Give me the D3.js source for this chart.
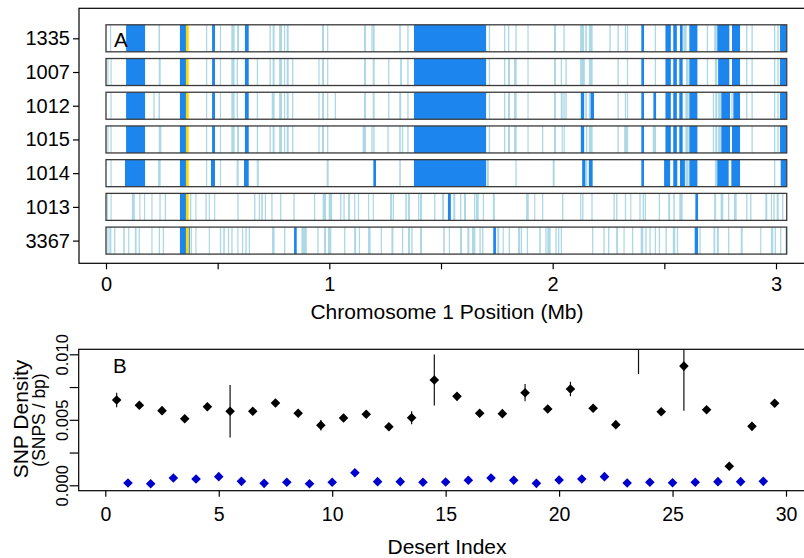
<!DOCTYPE html>
<html><head><meta charset="utf-8">
<script src="https://cdn.jsdelivr.net/npm/d3@7"></script>
<style>
html,body{margin:0;padding:0;background:#fff;}
svg{display:block;font-family:"Liberation Sans",Arial,Helvetica,sans-serif;}
</style></head>
<body>
<svg id="chart" width="804" height="558"></svg>
<script>
// ---------------- DATA ----------------
const trackNames = ["1335","1007","1012","1015","1014","1013","3367"];
const chromLengthMb = 3.048;
const topTicks = [0,0.5,1,1.5,2,2.5,3];

const light1335 = [[0.018,0.022],[0.235,0.242],[0.448,0.452],[0.510,0.515],[0.561,0.576],[0.587,0.596],[0.732,0.738],[0.746,0.755],[0.775,0.788],[0.797,0.802],[0.809,0.818],[0.967,0.976],[0.990,0.994],[1.155,1.164],[1.188,1.191],[1.194,1.203],[1.313,1.320],[1.349,1.355],[1.714,1.720],[1.782,1.788],[1.800,1.806],[1.833,1.839],[1.887,1.890],[2.006,2.015],[2.048,2.054],[2.123,2.141],[2.146,2.153],[2.162,2.179],[2.254,2.260],[2.290,2.296],[2.323,2.326],[2.332,2.338],[2.457,2.463],[2.585,2.600],[2.690,2.696],[2.723,2.735],[2.866,2.872],[2.890,2.896],[2.991,2.997],[3.006,3.012]];
const dark1335 = [[0.090,0.175],[0.331,0.358],[0.475,0.488],[0.622,0.639],[1.379,1.702],[2.397,2.409],[2.505,2.529],[2.540,2.556],[2.570,2.582],[2.612,2.648],[2.737,2.791],[2.803,2.839],[3.018,3.045]];

const light1007 = [[0.006,0.009],[0.020,0.023],[0.236,0.245],[0.448,0.452],[0.510,0.515],[0.561,0.576],[0.585,0.591],[0.675,0.681],[0.732,0.738],[0.746,0.755],[0.775,0.788],[0.797,0.802],[0.809,0.818],[0.833,0.839],[0.951,0.955],[0.967,0.976],[0.990,0.994],[1.155,1.164],[1.194,1.203],[1.263,1.269],[1.317,1.325],[1.349,1.355],[1.714,1.720],[1.782,1.788],[1.800,1.809],[1.827,1.839],[1.887,1.890],[2.006,2.015],[2.036,2.042],[2.057,2.063],[2.123,2.144],[2.162,2.179],[2.290,2.296],[2.332,2.338],[2.457,2.463],[2.597,2.609],[2.690,2.696],[2.726,2.737],[2.866,2.872],[2.890,2.896],[2.991,2.997],[3.006,3.012]];
const dark1007 = [[0.090,0.175],[0.331,0.358],[0.475,0.488],[0.622,0.639],[1.379,1.702],[2.397,2.409],[2.505,2.529],[2.540,2.556],[2.567,2.582],[2.612,2.648],[2.741,2.791],[2.803,2.839],[3.018,3.045]];

const light1012 = [[0.020,0.023],[0.212,0.218],[0.235,0.242],[0.448,0.452],[0.510,0.515],[0.561,0.576],[0.585,0.591],[0.675,0.681],[0.742,0.755],[0.775,0.788],[0.797,0.802],[0.809,0.818],[0.833,0.839],[0.951,0.955],[0.967,0.976],[0.990,0.994],[1.024,1.030],[1.155,1.164],[1.194,1.203],[1.263,1.269],[1.313,1.322],[1.349,1.355],[1.714,1.720],[1.782,1.788],[1.800,1.809],[1.827,1.839],[1.887,1.890],[2.006,2.015],[2.036,2.045],[2.048,2.054],[2.057,2.063],[2.146,2.153],[2.162,2.170],[2.290,2.296],[2.323,2.326],[2.332,2.338],[2.594,2.609],[2.717,2.723],[2.728,2.737],[2.741,2.753],[2.800,2.806],[2.866,2.872],[2.890,2.896],[2.991,2.997],[3.006,3.012]];
const dark1012 = [[0.090,0.175],[0.331,0.358],[0.475,0.488],[0.622,0.639],[1.379,1.702],[2.126,2.141],[2.170,2.185],[2.397,2.409],[2.451,2.463],[2.505,2.529],[2.540,2.556],[2.567,2.582],[2.612,2.648],[2.755,2.794],[2.809,2.839],[3.018,3.045]];

const light1015 = [[0.006,0.009],[0.020,0.023],[0.236,0.248],[0.448,0.452],[0.510,0.515],[0.561,0.576],[0.587,0.596],[0.675,0.681],[0.732,0.738],[0.746,0.755],[0.775,0.788],[0.797,0.802],[0.809,0.818],[0.833,0.839],[0.951,0.955],[0.967,0.976],[0.990,0.994],[1.149,1.164],[1.188,1.194],[1.197,1.203],[1.260,1.266],[1.313,1.320],[1.325,1.331],[1.349,1.355],[1.714,1.720],[1.782,1.788],[1.800,1.809],[1.827,1.839],[1.887,1.890],[1.952,1.958],[2.006,2.015],[2.040,2.045],[2.049,2.054],[2.149,2.155],[2.162,2.179],[2.290,2.296],[2.320,2.338],[2.448,2.463],[2.594,2.609],[2.717,2.723],[2.728,2.737],[2.741,2.753],[2.890,2.896],[2.991,2.997],[3.006,3.012]];
const dark1015 = [[0.090,0.175],[0.331,0.358],[0.475,0.488],[0.622,0.639],[1.379,1.702],[2.126,2.141],[2.397,2.409],[2.505,2.529],[2.540,2.556],[2.567,2.582],[2.612,2.648],[2.755,2.794],[2.803,2.839],[3.018,3.045]];

const light1014 = [[0.020,0.023],[0.233,0.245],[0.448,0.452],[0.510,0.515],[0.585,0.594],[0.675,0.684],[0.988,0.997],[1.313,1.320],[1.705,1.714],[1.833,1.839],[2.000,2.009],[2.146,2.155],[2.594,2.609],[2.726,2.737],[2.991,2.997]];
const dark1014 = [[0.085,0.175],[0.331,0.358],[0.470,0.488],[0.618,0.639],[1.197,1.209],[1.379,1.702],[2.132,2.146],[2.162,2.179],[2.397,2.409],[2.499,2.526],[2.540,2.558],[2.570,2.592],[2.612,2.648],[2.737,2.788],[2.800,2.839],[3.021,3.045]];

const light1013 = [[0.004,0.006],[0.020,0.023],[0.116,0.129],[0.149,0.152],[0.170,0.173],[0.203,0.206],[0.239,0.245],[0.263,0.269],[0.376,0.382],[0.400,0.403],[0.445,0.451],[0.460,0.463],[0.484,0.487],[0.588,0.594],[0.663,0.669],[0.684,0.686],[0.695,0.702],[0.711,0.716],[0.740,0.746],[0.779,0.785],[0.839,0.845],[0.931,0.937],[0.970,0.985],[0.997,1.012],[1.048,1.054],[1.063,1.069],[1.084,1.093],[1.111,1.114],[1.128,1.132],[1.173,1.176],[1.194,1.197],[1.272,1.281],[1.284,1.287],[1.340,1.347],[1.352,1.361],[1.397,1.403],[1.406,1.415],[1.469,1.475],[1.505,1.514],[1.555,1.564],[1.585,1.591],[1.603,1.612],[1.648,1.654],[1.657,1.669],[1.687,1.693],[1.732,1.741],[1.881,1.893],[1.917,1.922],[1.952,1.958],[2.042,2.048],[2.123,2.128],[2.132,2.138],[2.173,2.179],[2.272,2.278],[2.284,2.290],[2.323,2.329],[2.347,2.352],[2.388,2.394],[2.403,2.409],[2.412,2.418],[2.475,2.481],[2.517,2.526],[2.540,2.547],[2.567,2.582],[2.723,2.732],[2.752,2.764],[2.785,2.791],[2.812,2.824],[2.866,2.872],[2.884,2.890],[2.952,2.961],[2.977,2.982],[2.988,2.994],[3.003,3.012],[3.027,3.033]];
const dark1013 = [[0.331,0.358],[1.531,1.544],[2.639,2.651]];

const light3367 = [[0.006,0.008],[0.015,0.024],[0.036,0.042],[0.077,0.084],[0.099,0.104],[0.129,0.137],[0.146,0.152],[0.203,0.206],[0.236,0.242],[0.254,0.260],[0.379,0.385],[0.400,0.403],[0.460,0.463],[0.510,0.516],[0.525,0.532],[0.546,0.549],[0.561,0.567],[0.588,0.591],[0.609,0.612],[0.624,0.630],[0.639,0.645],[0.743,0.755],[0.797,0.803],[0.875,0.899],[0.946,0.952],[0.976,0.985],[0.994,1.009],[1.066,1.072],[1.111,1.120],[1.132,1.137],[1.173,1.185],[1.230,1.236],[1.278,1.287],[1.325,1.331],[1.352,1.361],[1.367,1.373],[1.406,1.415],[1.510,1.517],[1.535,1.540],[1.585,1.594],[1.618,1.627],[1.639,1.654],[1.672,1.678],[1.684,1.690],[1.752,1.761],[1.776,1.779],[1.803,1.809],[1.845,1.854],[1.857,1.863],[1.884,1.890],[1.940,1.947],[1.967,1.973],[1.976,1.991],[2.012,2.018],[2.024,2.030],[2.036,2.042],[2.176,2.182],[2.227,2.233],[2.248,2.254],[2.284,2.293],[2.317,2.320],[2.355,2.361],[2.394,2.406],[2.415,2.421],[2.433,2.439],[2.457,2.463],[2.475,2.481],[2.505,2.511],[2.538,2.549],[2.556,2.562],[2.657,2.663],[2.720,2.728],[2.735,2.744],[2.785,2.791],[2.842,2.851],[2.929,2.934],[2.977,2.988],[2.994,3.000],[3.018,3.024],[3.042,3.045]];
const dark3367 = [[0.331,0.358],[0.370,0.373],[0.842,0.854],[1.734,1.746],[2.636,2.651]];

const yellowSegs = [[0.358,0.370]];

// Panel B
const desertIdx = [0.5,1.5,2.5,3.5,4.5,5.5,6.5,7.5,8.5,9.5,10.5,11.5,12.5,13.5,14.5,15.5,16.5,17.5,18.5,19.5,20.5,21.5,22.5,23.5,24.5,25.5,26.5,27.5,28.5,29.5];
const desertDensity = [0.00651,0.00611,0.00570,0.00508,0.00600,0.00565,0.00565,0.00628,0.00550,0.00458,0.00514,0.00542,0.00447,0.00516,0.00804,0.00679,0.00550,0.00547,0.00707,0.00582,0.00735,0.00588,0.00463,0.01080,0.00562,0.00910,0.00577,0.00145,0.00450,0.00626];
const desertErr = [0.00056,0.00015,0.00015,0.00015,0.00015,0.00200,0.00015,0.00015,0.00015,0.00040,0.00015,0.00015,0.00015,0.00050,0.00195,0.00015,0.00015,0.00030,0.00066,0.00015,0.00055,0.00015,0.00015,0.00230,0.00020,0.00340,0.00015,0.00025,0.00015,0.00015];
const otherIdx = [1,2,3,4,5,6,7,8,9,10,11,12,13,14,15,16,17,18,19,20,21,22,23,24,25,26,27,28,29];
const otherDensity = [0.00017,0.00012,0.00056,0.00048,0.00066,0.00030,0.00015,0.00023,0.00012,0.00023,0.00096,0.00028,0.00028,0.00023,0.00025,0.00038,0.00056,0.00038,0.00015,0.00040,0.00048,0.00066,0.00017,0.00023,0.00020,0.00023,0.00028,0.00028,0.00030];
const bXTicks = [0,5,10,15,20,25,30];
const bYTicks = [0,0.0025,0.005,0.0075,0.010];
const bYLabelled = [0,0.005,0.010];

// ---------------- DRAW ----------------
const lightSegs = {"1335":light1335,"1007":light1007,"1012":light1012,"1015":light1015,"1014":light1014,"1013":light1013,"3367":light3367};
const darkSegs = {"1335":dark1335,"1007":dark1007,"1012":dark1012,"1015":dark1015,"1014":dark1014,"1013":dark1013,"3367":dark3367};

const svg = d3.select("#chart");
svg.append("rect").attr("width",804).attr("height",558).attr("fill","#fff");

const COL_LIGHT = "#ADD8E6", COL_DARK = "#1C86EE", COL_YEL = "#FFD700";

// ---- Panel A ----
const A = {left:79, top:8.3, bottom:263.3, right:830};
const xTop = d3.scaleLinear().domain([0,3]).range([106,776]);
const yTop = d3.scalePoint().domain(trackNames).range([38.3,240.6]);
const trackH = 27;

const tracks = svg.append("g");
trackNames.forEach(name => {
  const g = tracks.append("g");
  const y0 = yTop(name) - trackH/2;
  g.append("rect").attr("x",xTop(0)).attr("y",y0)
    .attr("width",xTop(chromLengthMb)-xTop(0)).attr("height",trackH).attr("fill","#fff");
  const draw = (segs, col) => g.selectAll(null).data(segs).enter().append("rect")
    .attr("x", d => xTop(d[0]))
    .attr("y", y0)
    .attr("width", d => Math.max(1.2, xTop(d[1]) - xTop(d[0])))
    .attr("height", trackH)
    .attr("fill", col);
  draw(lightSegs[name], COL_LIGHT);
  draw(darkSegs[name], COL_DARK);
  draw(yellowSegs, COL_YEL);
  g.append("rect").attr("x",xTop(0)).attr("y",y0)
    .attr("width",xTop(chromLengthMb)-xTop(0)).attr("height",trackH)
    .attr("fill","none").attr("stroke","#3a3a3a").attr("stroke-width",1.3);
});

svg.append("rect").attr("x",A.left).attr("y",A.top).attr("width",A.right-A.left).attr("height",A.bottom-A.top)
  .attr("fill","none").attr("stroke","#000").attr("stroke-width",1.2);

const axYA = svg.append("g").attr("transform",`translate(${A.left},0)`)
  .call(d3.axisLeft(yTop).tickSize(6).tickPadding(3));
axYA.select(".domain").remove();
axYA.selectAll("text").attr("font-size","20px").attr("fill","#000");
axYA.selectAll("line").attr("stroke-width",1.2);

const axXA = svg.append("g").attr("transform",`translate(0,${A.bottom})`)
  .call(d3.axisBottom(xTop).tickValues(topTicks).tickFormat(d => Number.isInteger(d) ? d : "").tickSize(6).tickPadding(7.5));
axXA.select(".domain").remove();
axXA.selectAll("text").attr("font-size","20px").attr("fill","#000");
axXA.selectAll("line").attr("stroke-width",1.2);

svg.append("text").attr("x",447).attr("y",319.3).attr("text-anchor","middle")
  .attr("font-size","21px").text("Chromosome 1 Position (Mb)");
svg.append("text").attr("x",114).attr("y",46.7).attr("font-size","20.5px").text("A");

// ---- Panel B ----
const B = {left:78.7, top:349.3, bottom:490.7, right:830};
const xB = d3.scaleLinear().domain([0,30]).range([105.3,786]);
const yB = d3.scaleLinear().domain([0,0.010]).range([485.3,354.3]);

svg.append("clipPath").attr("id","clipB").append("rect")
  .attr("x",B.left).attr("y",B.top).attr("width",B.right-B.left).attr("height",B.bottom-B.top);

svg.append("rect").attr("x",B.left).attr("y",B.top).attr("width",B.right-B.left).attr("height",B.bottom-B.top)
  .attr("fill","none").attr("stroke","#000").attr("stroke-width",1.2);

const axXB = svg.append("g").attr("transform",`translate(0,${B.bottom})`)
  .call(d3.axisBottom(xB).tickValues(bXTicks).tickSize(6).tickPadding(10));
axXB.select(".domain").remove();
axXB.selectAll("text").attr("font-size","19.5px").attr("fill","#000");
axXB.selectAll("line").attr("stroke-width",1.2);

const axYB = svg.append("g").attr("transform",`translate(${B.left},0)`)
  .call(d3.axisLeft(yB).tickValues(bYTicks).tickSize(9)
    .tickFormat(d => bYLabelled.some(v => Math.abs(v-d)<1e-9) ? d3.format(".3f")(d) : ""));
axYB.select(".domain").remove();
axYB.selectAll("line").attr("stroke-width",1.2);
axYB.selectAll("text").attr("x",null).attr("dy",null).attr("text-anchor","middle")
  .attr("transform","translate(-11,0) rotate(-90)").attr("font-size","16.5px").attr("fill","#000");

const plotB = svg.append("g").attr("clip-path","url(#clipB)");
const blackData = desertIdx.map((x,i) => ({x, v:desertDensity[i], e:desertErr[i]}));
plotB.selectAll(null).data(blackData).enter().append("line")
  .attr("x1", d => xB(d.x)).attr("x2", d => xB(d.x))
  .attr("y1", d => yB(d.v - d.e)).attr("y2", d => yB(d.v + d.e))
  .attr("stroke","#111").attr("stroke-width",1.2);
const diamond = d3.symbol(d3.symbolSquare, 46);
plotB.selectAll(null).data(blackData).enter().append("path")
  .attr("d", diamond)
  .attr("transform", d => `translate(${xB(d.x)},${yB(d.v)}) rotate(45)`)
  .attr("fill","#000");
const blueData = otherIdx.map((x,i) => ({x, v:otherDensity[i]}));
plotB.selectAll(null).data(blueData).enter().append("path")
  .attr("d", diamond)
  .attr("transform", d => `translate(${xB(d.x)},${yB(d.v)}) rotate(45)`)
  .attr("fill","#0000CD");

svg.append("text").attr("x",113).attr("y",373).attr("font-size","20.5px").text("B");
svg.append("text").attr("transform","translate(27.5,419) rotate(-90)").attr("text-anchor","middle")
  .attr("font-size","21px").text("SNP Density");
svg.append("text").attr("transform","translate(45,420) rotate(-90)").attr("text-anchor","middle")
  .attr("font-size","17.5px").text("(SNPS / bp)");
svg.append("text").attr("x",447).attr("y",553.5).attr("text-anchor","middle")
  .attr("font-size","21px").text("Desert Index");
</script>
</body></html>
